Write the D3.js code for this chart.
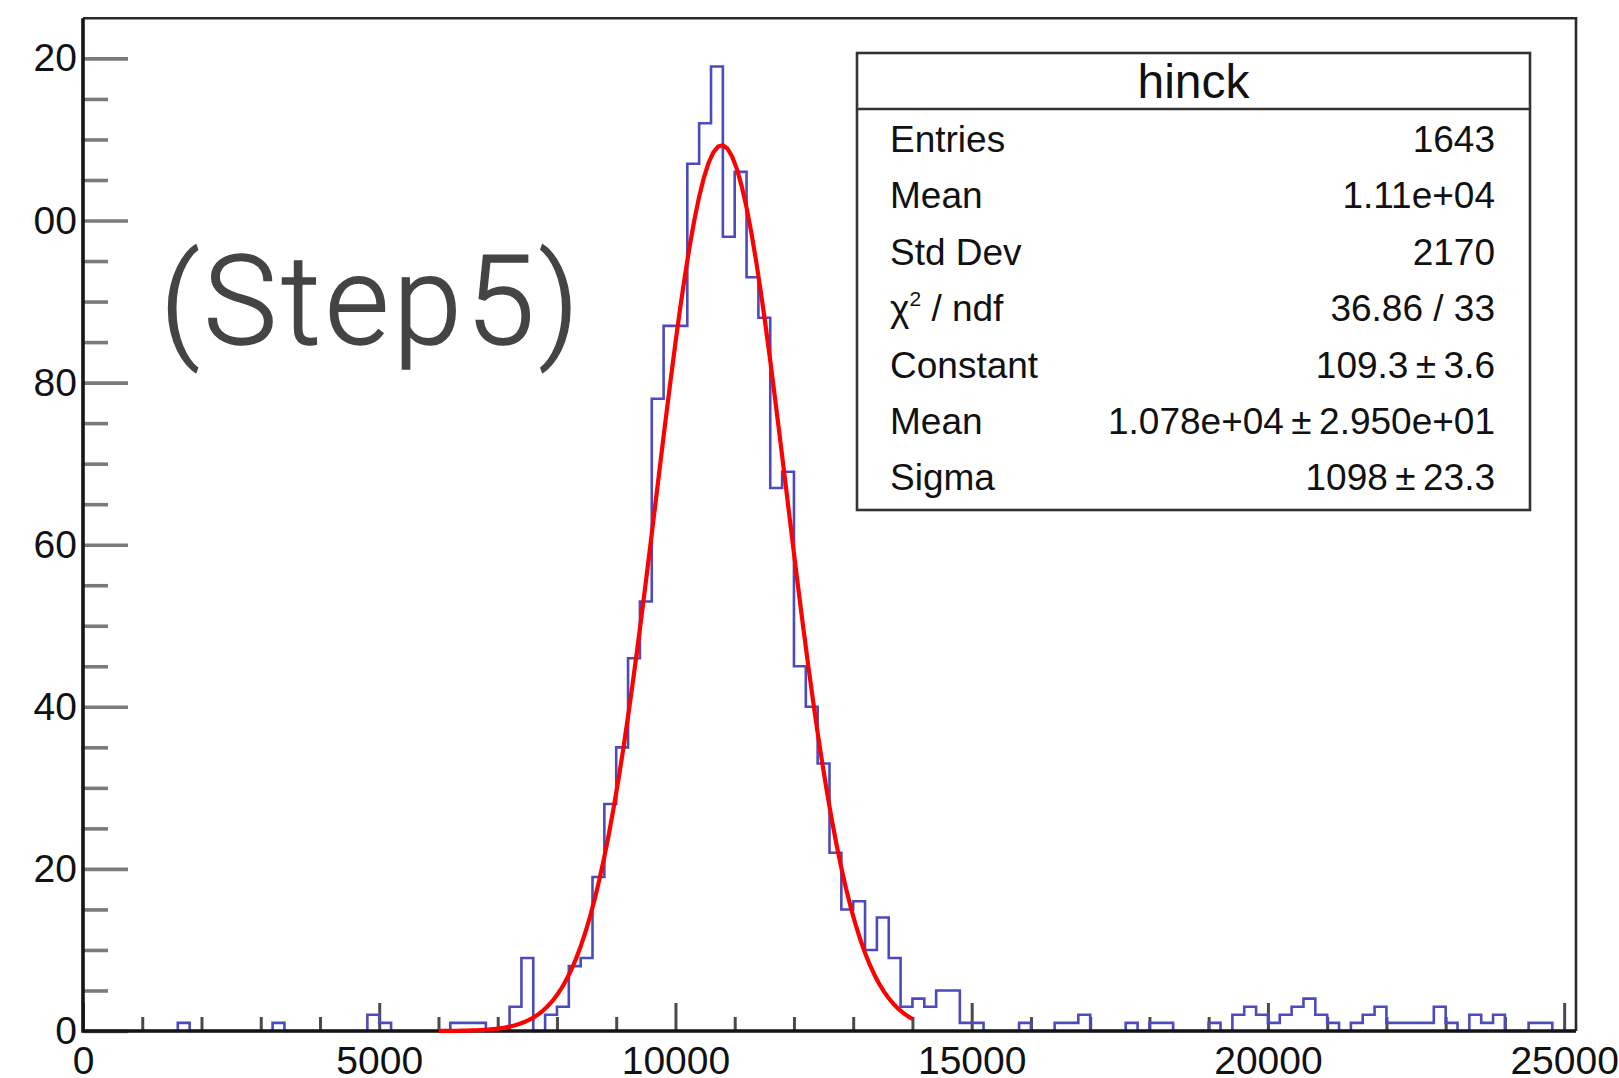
<!DOCTYPE html>
<html>
<head>
<meta charset="utf-8">
<script src="https://cdn.jsdelivr.net/npm/d3@7"></script>
<style>
  html, body { margin: 0; padding: 0; background: #fff; }
  svg { display: block; }
</style>
</head>
<body>
<svg id="chart" width="1619" height="1078"></svg>
<script>
// ---- histogram "hinck": 126 bins of width 200 starting at 0 ----
const binWidth = 200;
const xRange = [0, 25200];
const binCounts = [
  0, 0, 0, 0, 0, 0, 0, 0, 1, 0,        // 0 - 1800
  0, 0, 0, 0, 0, 0, 1, 0, 0, 0,        // 2000 - 3800
  0, 0, 0, 0, 2, 1, 0, 0, 0, 0,        // 4000 - 5800
  0, 1, 1, 1, 0, 0, 3, 9, 0, 2,        // 6000 - 7800
  3, 8, 9, 19, 28, 35, 46, 53, 78, 87, // 8000 - 9800
  87, 107, 112, 119, 98, 106, 93, 88, 67, 69, // 10000 - 11800
  45, 40, 33, 22, 15, 16, 10, 14, 9, 3,  // 12000 - 13800
  4, 3, 5, 5, 1, 1, 0, 0, 0, 1,        // 14000 - 15800
  0, 0, 1, 1, 2, 0, 0, 0, 1, 0,        // 16000 - 17800
  1, 1, 0, 0, 0, 1, 0, 2, 3, 2,        // 18000 - 19800
  1, 2, 3, 4, 2, 1, 0, 1, 2, 3,        // 20000 - 21800
  1, 1, 1, 1, 3, 1, 0, 2, 1, 2,        // 22000 - 23800
  0, 0, 1, 1, 0, 0                     // 24000 - 25000
];
const yMax = 124.95;

// ---- axis ticks ----
const xTickValues = [0, 5000, 10000, 15000, 20000, 25000];
const xTickLabels = ["0", "5000", "10000", "15000", "20000", "25000"];
const xMinorStep = 1000;
const yTickValues = [0, 20, 40, 60, 80, 100, 120];
const yTickLabels = ["0", "20", "40", "60", "80", "00", "20"];
const yMinorStep = 5;

// ---- gaussian fit ----
const fitConstant = 109.3;
const fitMean = 10780;
const fitSigma = 1098;
const fitRange = [6000, 14000];
const fitPoints = 100;

// ---- statistics box ----
const histName = "hinck";
const statLabels = ["Entries", "Mean", "Std Dev", "χ2 / ndf", "Constant", "Mean", "Sigma"];
const statValues = ["1643", "1.11e+04", "2170", "36.86 / 33",
                    "109.3\u2009±\u20093.6", "1.078e+04\u2009±\u20092.950e+01", "1098\u2009±\u200923.3"];
const annotation = "(Step5)";

// ---- layout ----
const frame = { left: 83, right: 1576, top: 18.3, bottom: 1031 };
const svg = d3.select("#chart");
svg.append("rect").attr("width", 1619).attr("height", 1078).attr("fill", "#fff");

const x = d3.scaleLinear().domain(xRange).range([frame.left, frame.right]);
const y = d3.scaleLinear().domain([0, yMax]).range([frame.bottom, frame.top]);

const axisFont = "'Liberation Sans', Arial, Helvetica, sans-serif";

// top and right frame edges
svg.append("path")
  .attr("d", `M${frame.left},${frame.top}H${frame.right}V${frame.bottom}`)
  .attr("fill", "none").attr("stroke", "#2a2a2a").attr("stroke-width", 2.6);

// minor ticks
const xMinor = d3.range(xRange[0], 25000 + 1, xMinorStep).filter(v => !xTickValues.includes(v));
const yMinor = d3.range(0, yMax, yMinorStep).filter(v => !yTickValues.includes(v));

const gxMinor = svg.append("g").attr("transform", `translate(0,${frame.bottom})`)
  .call(d3.axisBottom(x).tickValues(xMinor).tickSize(-14).tickFormat(""));
const gyMinor = svg.append("g").attr("transform", `translate(${frame.left},0)`)
  .call(d3.axisLeft(y).tickValues(yMinor).tickSize(-25).tickFormat(""));

// major ticks + labels
const gx = svg.append("g").attr("transform", `translate(0,${frame.bottom})`)
  .call(d3.axisBottom(x).tickValues(xTickValues).tickSize(-28).tickPadding(15)
    .tickFormat((d, i) => xTickLabels[i]));
const gy = svg.append("g").attr("transform", `translate(${frame.left},0)`)
  .call(d3.axisLeft(y).tickValues(yTickValues).tickSize(-45).tickPadding(6)
    .tickFormat((d, i) => yTickLabels[i]));

[gxMinor, gyMinor, gx, gy].forEach(g => g.select(".domain").remove());
[gxMinor, gx].forEach(g => g.selectAll(".tick line").attr("stroke", "#4a4a4a").attr("stroke-width", 3));
[gyMinor, gy].forEach(g => g.selectAll(".tick line").attr("stroke", "#7a7a7a").attr("stroke-width", 3.6));
gx.selectAll(".tick text").attr("font-family", axisFont).attr("font-size", 39).attr("fill", "#111");
gy.selectAll(".tick text").attr("font-family", axisFont).attr("font-size", 39).attr("fill", "#111");

// histogram outline
const stepPts = binCounts.map((c, k) => [xRange[0] + k * binWidth, c]);
stepPts.push([xRange[0] + binCounts.length * binWidth, binCounts[binCounts.length - 1]]);
const stepLine = d3.line().x(d => x(d[0])).y(d => y(d[1])).curve(d3.curveStepAfter);
svg.append("path")
  .attr("d", stepLine(stepPts))
  .attr("fill", "none").attr("stroke", "#4b4bbd").attr("stroke-width", 2.6)
  .attr("stroke-linejoin", "miter");

// axis lines on top of the histogram baseline
svg.append("path")
  .attr("d", `M${frame.left},${frame.top}V${frame.bottom}H${frame.right}`)
  .attr("fill", "none").attr("stroke", "#151515").attr("stroke-width", 3.6);

// gaussian fit curve
const gauss = v => fitConstant * Math.exp(-0.5 * Math.pow((v - fitMean) / fitSigma, 2));
const fitX = d3.range(fitPoints + 1).map(i => fitRange[0] + (fitRange[1] - fitRange[0]) * i / fitPoints);
svg.append("path")
  .attr("d", d3.line().x(d => x(d)).y(d => y(gauss(d)))(fitX))
  .attr("fill", "none").attr("stroke", "#ff0000").attr("stroke-width", 4.2)
  .attr("stroke-linejoin", "round");

// statistics box
const box = { x: 857, y: 53, w: 673, h: 457, header: 109 };
const gb = svg.append("g");
gb.append("rect").attr("x", box.x).attr("y", box.y).attr("width", box.w).attr("height", box.h)
  .attr("fill", "#fff").attr("stroke", "#333").attr("stroke-width", 2.6);
gb.append("line").attr("x1", box.x).attr("x2", box.x + box.w).attr("y1", box.header).attr("y2", box.header)
  .attr("stroke", "#333").attr("stroke-width", 2.6);
gb.append("text").attr("x", box.x + box.w / 2).attr("y", 98).attr("text-anchor", "middle")
  .attr("font-family", axisFont).attr("font-size", 48).attr("fill", "#111").text(histName);

const rowY = i => 152 + i * 56.4;
statLabels.forEach((lab, i) => {
  const t = gb.append("text").attr("x", 890).attr("y", rowY(i))
    .attr("font-family", axisFont).attr("font-size", 37).attr("fill", "#111");
  if (lab.startsWith("χ2")) {
    t.append("tspan").text("χ");
    t.append("tspan").attr("font-size", 21).attr("dy", -15).text("2");
    t.append("tspan").attr("dy", 15).text(lab.slice(2));
  } else {
    t.text(lab);
  }
  gb.append("text").attr("x", 1495).attr("y", rowY(i)).attr("text-anchor", "end")
    .attr("font-family", axisFont).attr("font-size", 37).attr("fill", "#111").text(statValues[i]);
});

// large annotation
svg.append("text").attr("x", 160).attr("y", 344)
  .attr("font-family", "Roboto, 'Liberation Sans', sans-serif").attr("font-size", 124)
  .attr("font-weight", 300).attr("letter-spacing", 4)
  .attr("fill", "#444").attr("stroke", "#444").attr("stroke-width", 1.4)
  .text(annotation);
</script>
</body>
</html>
